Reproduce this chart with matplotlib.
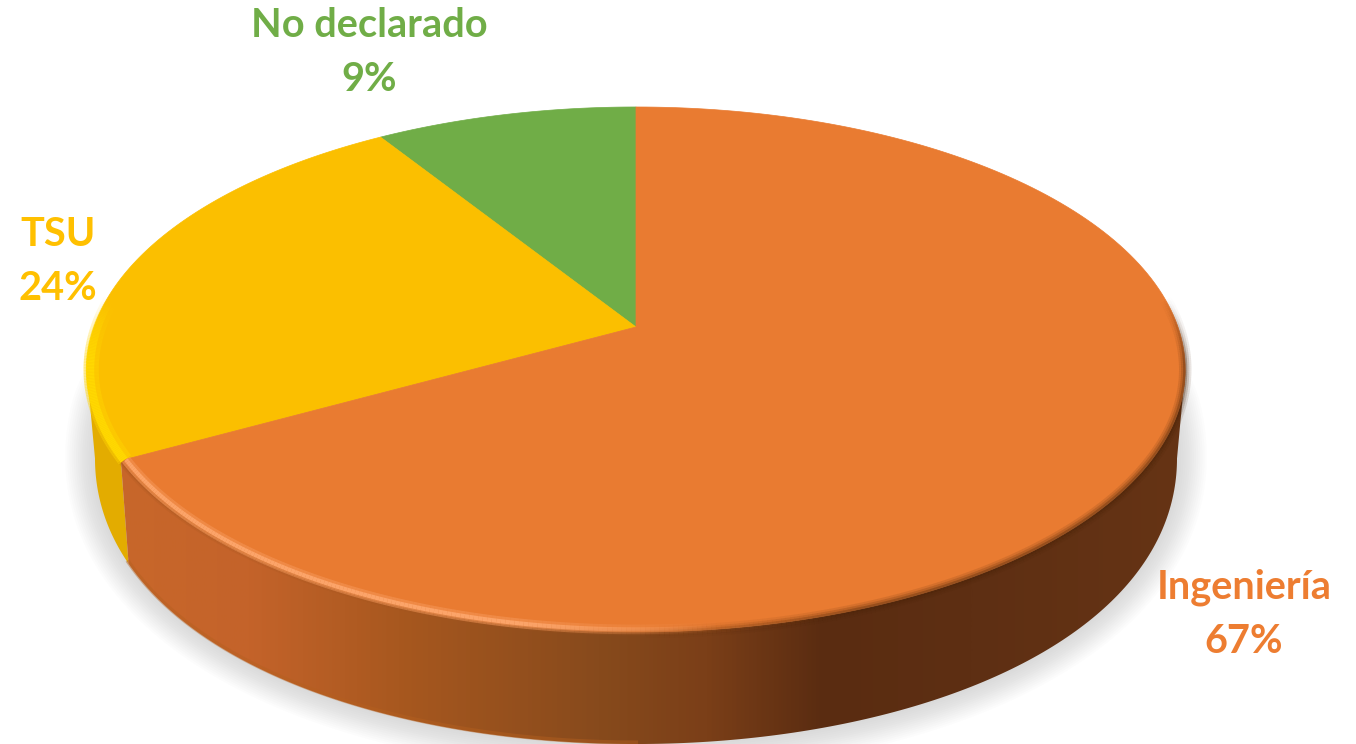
import numpy as np
import matplotlib
matplotlib.use('Agg')
import matplotlib.pyplot as plt
from matplotlib.collections import LineCollection
from matplotlib.colors import LinearSegmentedColormap, to_rgb
from matplotlib.patches import Polygon

# Data, clockwise from the top of the pie
categories = ['No declarado', 'TSU', 'Ingeniería']
shares = [9, 24, 67]
top_colors = ['#70AD47', '#FBBF00', '#E97B31']
text_colors = ['#70AD47', '#FFC000', '#ED7D31']
label_pos = [(369, 52.5), (58, 261.5), (1244, 614.5)]


# Top of the disc, a circle seen in perspective, in pixel coordinates
def project(theta):
    X = np.sin(theta)
    Y = np.cos(theta)
    den = 1 + 0.1619 * Y
    return 636 + 542 * X / den, (327 - 202.7 * Y) / den


# Bottom of the disc: a bit narrower and lower
def project_bottom(theta):
    x, y = project(theta)
    drop = 112 - 33 * (1 + np.cos(theta)) ** 2
    return 636 + (x - 636) * 0.985, y + drop


def wedge_points(a0, a1):
    x, y = project(np.linspace(a0, a1, 200))
    return np.column_stack([np.r_[636, x], np.r_[327, y]])


def side_points(a0, a1):
    t = np.linspace(a0, a1, 200)
    x0, y0 = project(t)
    x1, y1 = project_bottom(t[::-1])
    return np.column_stack([np.r_[x0, x1], np.r_[y0, y1]])


def rim_lines(ax, t, color, alpha, width, inset=0.0, zorder=4):
    x, y = project(t)
    x = 636 + (x - 636) * (1 - inset)
    y = 370 + (y - 370) * (1 - inset)
    pts = np.column_stack([x, y]).reshape(-1, 1, 2)
    segs = np.concatenate([pts[:-1], pts[1:]], axis=1)
    rgba = np.zeros((len(segs), 4))
    rgba[:, :3] = to_rgb(color)
    rgba[:, 3] = alpha(x[:-1], y[:-1])
    ax.add_collection(LineCollection(segs, colors=rgba, linewidths=width, zorder=zorder))


fig = plt.figure(figsize=(13.56, 7.44), dpi=100)
ax = fig.add_axes([0, 0, 1, 1])
ax.set_xlim(0, 1356)
ax.set_ylim(744, 0)
ax.axis('off')

# Soft shadow under the pie, its back part stays hidden behind the top face
t_all = np.linspace(0, 2 * np.pi, 400)
sx, _ = project_bottom(t_all)
_, top_y = project(t_all)
sy = top_y + np.where(np.cos(t_all) > 0, 79, 112 - 33 * (1 + np.cos(t_all)) ** 2)
for grow in np.linspace(30, 2, 14):
    ax.fill(636 + (sx - 636) * (1 + grow / 545), 470 + (sy - 470) * (1 + grow / 280),
            color='#666666', alpha=0.014, lw=0, zorder=1)

# Slice angles come from the shares, going anticlockwise from the top
edges = -np.cumsum([0] + shares) / 100 * 2 * np.pi
a_green = (edges[0], edges[1])
a_yellow = (edges[1], edges[2])
a_orange = (edges[2], edges[3])

# Where the outline of the disc turns from top face to wall
right_turn = np.pi / 2 + 0.163
left_turn = -np.pi / 2 - 0.163

# Side wall: yellow part and orange part
ax.add_patch(Polygon(side_points(left_turn, a_yellow[1]), color='#E3AC00', lw=0, zorder=2))

cmap = LinearSegmentedColormap.from_list('side', [
    (0.00, '#C8672A'), (0.12, '#C4632A'), (0.26, '#A8581F'), (0.45, '#874A1C'),
    (0.55, '#7B3F18'), (0.66, '#5A2C11'), (0.80, '#5E2F13'), (1.00, '#663415')])
grad = np.linspace(0, 1, 512).reshape(1, -1)
img = ax.imshow(grad, extent=(120, 1186, 744, 300), cmap=cmap, aspect='auto', zorder=2)
wall = Polygon(side_points(right_turn, a_yellow[1] + 2 * np.pi), fc='none', ec='none')
ax.add_patch(wall)
img.set_clip_path(wall)
ax.set_xlim(0, 1356)
ax.set_ylim(744, 0)

# Lighter edge along the bottom of the wall
t_low = np.linspace(a_yellow[1] + 2 * np.pi, np.pi, 200)
bx, by = project_bottom(t_low)
ax.plot(bx, by - 1.5, color='#B5601F', lw=3, alpha=0.45, zorder=2.5)

# Top face
for (a0, a1, c) in [(a_green[0], a_green[1], top_colors[0]),
                    (a_yellow[0], a_yellow[1], top_colors[1]),
                    (a_orange[0], a_orange[1], top_colors[2])]:
    ax.fill(*wedge_points(a0, a1).T, color=c, lw=0.5, ec=c, zorder=3)

# Bevel along the rim: dark and blurred at the right, light at the front left
t = np.linspace(a_yellow[1] + 2 * np.pi, np.pi / 2 - 0.3, 400)
fade_dark = lambda x, y: np.clip((x - 640) / 220, 0, 1) * np.clip((y - 300) / 60, 0, 1)
for w, a in [(9, 0.12), (6, 0.18), (3, 0.3)]:
    rim_lines(ax, t, '#4A2409', lambda x, y, a=a: fade_dark(x, y) * a, w)

fade_soft = lambda x, y: np.clip((860 - x) / 260, 0, 1)
for w, a in [(5, 0.2), (2.5, 0.35)]:
    rim_lines(ax, t, '#A4561F', lambda x, y, a=a: fade_soft(x, y) * a, w)

fade_light = lambda x, y: np.clip((720 - x) / 200, 0, 1)
rim_lines(ax, t, '#F79A5C', lambda x, y: fade_light(x, y) * 0.5, 7, inset=0.01)
rim_lines(ax, t, '#FCA469', lambda x, y: fade_light(x, y), 3, inset=0.01)

# Brighter band on the yellow slice
ty = np.linspace(a_yellow[1], a_yellow[0] * 0.55 + a_yellow[1] * 0.45, 150)
fade_yellow = lambda x, y: np.clip((y - 300) / 60, 0, 1)
rim_lines(ax, ty, '#FFD400', lambda x, y: fade_yellow(x, y) * 0.5, 11, inset=0.008)
rim_lines(ax, ty, '#FFD800', fade_yellow, 6, inset=0.006)

# Labels
for name, share, col, (lx, ly) in zip(categories, shares, text_colors, label_pos):
    ax.text(lx, ly, f'{name}\n{share}%', color=col, fontsize=28.6, fontweight='bold',
            family='Lato', ha='center', va='center', linespacing=1.55, zorder=5)

fig.savefig('out.png', dpi=100)
